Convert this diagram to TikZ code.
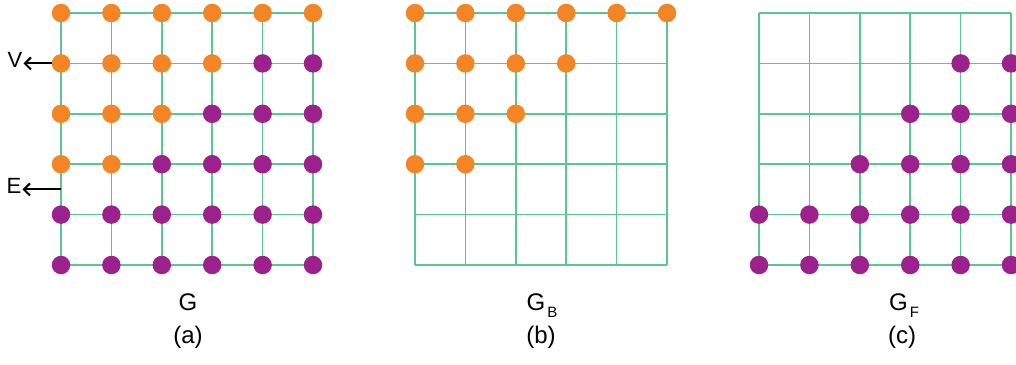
\documentclass[tikz,border=0pt]{standalone}
\usepackage{fontspec}
\setmainfont{Liberation Sans}
\usetikzlibrary{arrows.meta,calc}
\definecolor{gridgreen}{RGB}{90,198,145}
\definecolor{dotorange}{RGB}{244,133,36}
\definecolor{dotpurple}{RGB}{157,33,140}

\begin{document}
\begin{tikzpicture}[
    x=1pt,y=-1pt,
    edge/.style={draw=gridgreen,line width=1.7pt},
    bdot/.style={circle,fill=dotorange,inner sep=0pt,minimum size=18.5pt},
    fdot/.style={circle,fill=dotpurple,inner sep=0pt,minimum size=18.5pt},
    caption/.style={font=\fontsize{24}{28}\selectfont,anchor=base,inner sep=0pt},
    tag/.style={font=\fontsize{22}{26}\selectfont,inner sep=1pt},
    pointer/.style={-{Straight Barb[length=6pt,width=12pt]},line width=2pt}
  ]
    \useasboundingbox (0,0) rectangle (1016,364);

    % grid points of the three panels
    \foreach \p/\xo in {a/61,b/415,c/759}
      \foreach \i in {0,...,5}
        \foreach \j in {0,...,5}
          \coordinate (\p-\i-\j) at (\xo+50.4*\i,13+50.4*\j);

    \foreach \p in {a,b,c}
      \foreach \k in {0,...,5} {
        \draw[edge] (\p-0-\k) -- (\p-5-\k);
        \draw[edge] (\p-\k-0) -- (\p-\k-5);
      }

    % vertices: row / last orange column
    \foreach \j/\m in {0/5,1/3,2/2,3/1}
      \foreach \i in {0,...,\m} {
        \node[bdot] (va-\i-\j) at (a-\i-\j) {};
        \node[bdot] (vb-\i-\j) at (b-\i-\j) {};
      }
    % row / first purple column
    \foreach \j/\m in {1/4,2/3,3/2,4/0,5/0}
      \foreach \i in {\m,...,5} {
        \node[fdot] (va-\i-\j) at (a-\i-\j) {};
        \node[fdot] (vc-\i-\j) at (c-\i-\j) {};
      }

    \node[tag] (vlbl) at (15,60) {V};
    \node[tag] (elbl) at (14,186) {E};
    \coordinate (emid) at ($(a-0-3)!0.5!(a-0-4)$);
    \draw[pointer] (va-0-1.west) -- (va-0-1.west -| vlbl.east);
    \draw[pointer] (emid) -- (emid -| elbl.east);

    \node[caption] (ga) at (188,310) {G};
    \node[caption] (la) at (188,343) {(a)};
    \node[caption] (gb) at (542,310) {G\kern2pt\raisebox{-7pt}{\fontsize{15}{15}\selectfont B}};
    \node[caption] (lb) at (541,343) {(b)};
    \node[caption] (gf) at (904,310) {G\kern2pt\raisebox{-7pt}{\fontsize{15}{15}\selectfont F}};
    \node[caption] (lc) at (902,343) {(c)};
  \end{tikzpicture}
\end{document}
